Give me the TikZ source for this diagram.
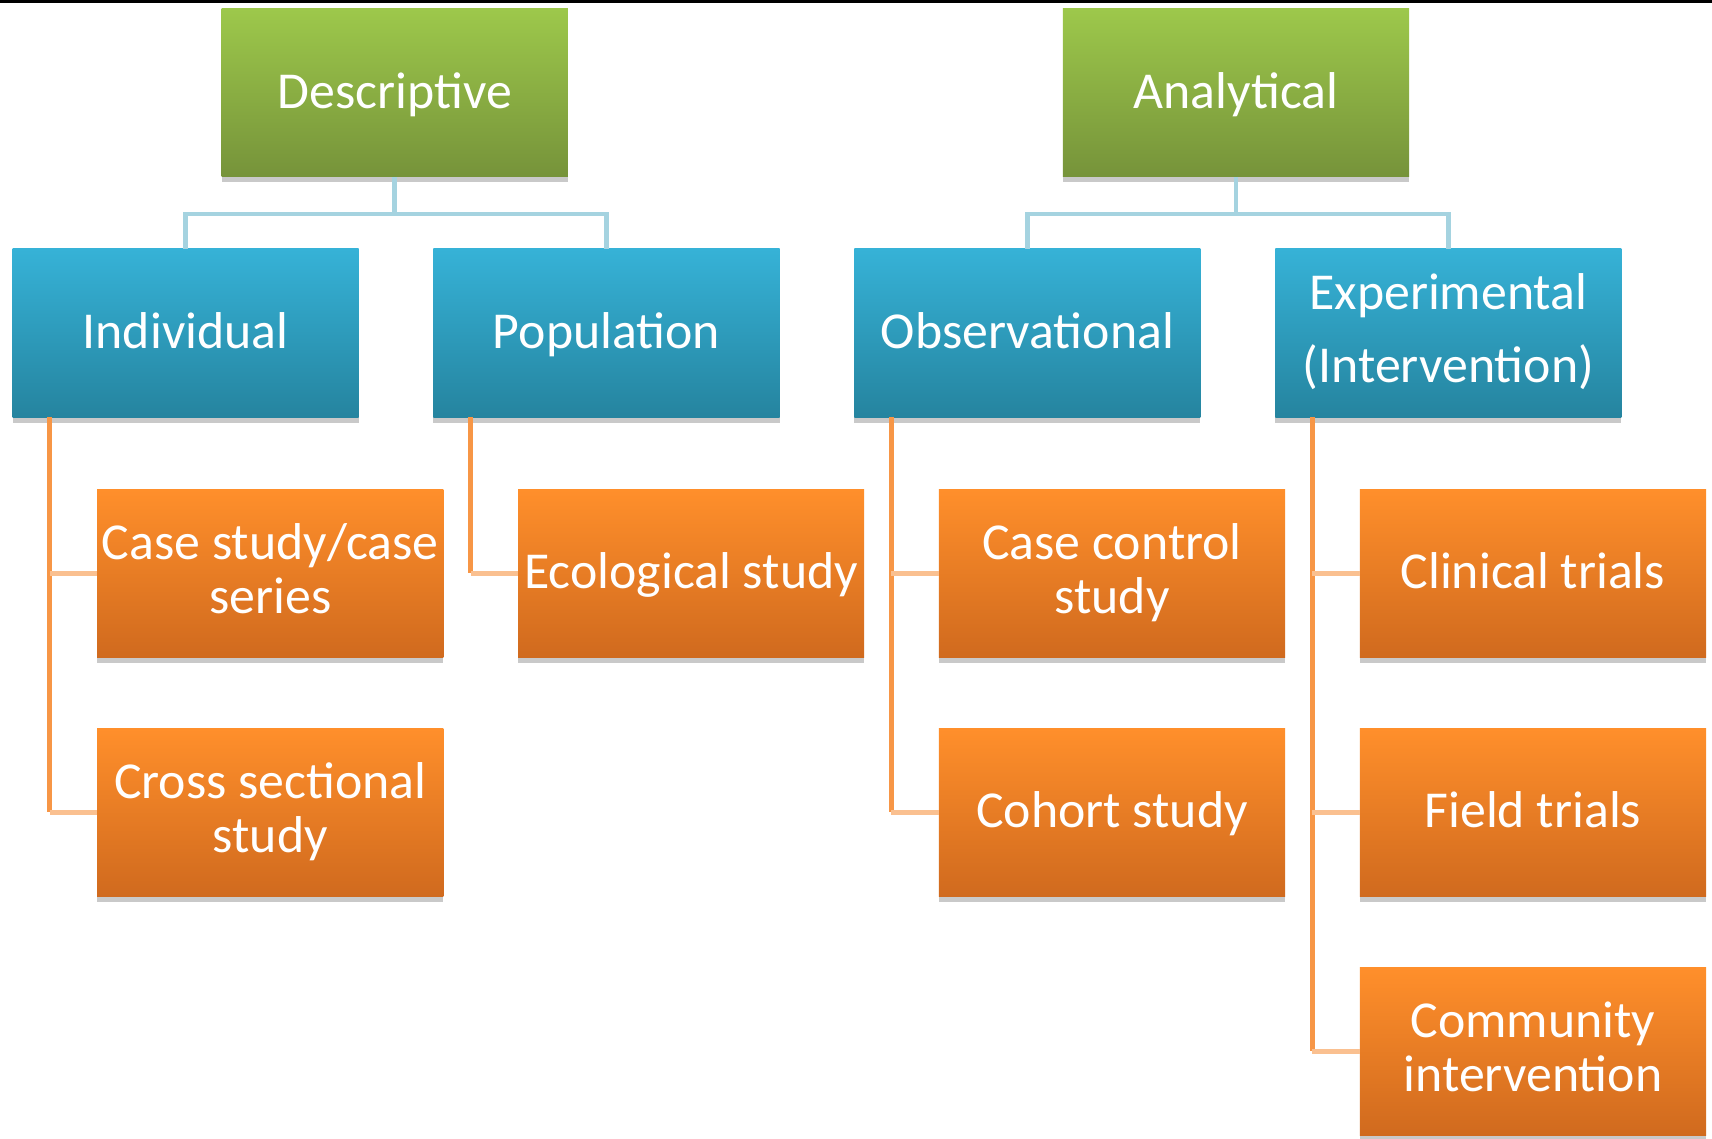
\documentclass[tikz,border=0pt]{standalone}
\usepackage{fontspec}
\setmainfont{Carlito}
\usetikzlibrary{positioning, shadows}

\definecolor{topgreen}{HTML}{9DC84B}
\definecolor{botgreen}{HTML}{76933A}
\definecolor{topblue}{HTML}{36B2D7}
\definecolor{botblue}{HTML}{25849F}
\definecolor{toporange}{HTML}{FF8F2B}
\definecolor{botorange}{HTML}{D06A1E}
\definecolor{lineblue}{HTML}{A5D3E0}
\definecolor{lineorange}{HTML}{F79646}
\definecolor{paleorange}{HTML}{FAC090}

\tikzset{
  box/.style={minimum width=3.17cm, minimum height=1.54cm, inner sep=0pt, outer sep=0pt,
    align=center, text=white, font=\fontsize{13.5}{14}\selectfont,
    execute at begin node=\rule{0pt}{10.5pt}, execute at end node=\rule[-2.4pt]{0pt}{2.4pt},
    drop shadow={shadow xshift=0cm, shadow yshift=-0.05cm, opacity=0.3, fill=black!70}},
  topbox/.style={box, top color=topgreen, bottom color=botgreen},
  midbox/.style={box, top color=topblue, bottom color=botblue},
  leafbox/.style={box, top color=toporange, bottom color=botorange},
  stem/.style={draw=lineblue, line width=1.2pt},
  trunk/.style={draw=lineorange, line width=1.2pt},
  twig/.style={draw=paleorange, line width=1.2pt},
}

\begin{document}
\begin{tikzpicture}
  \useasboundingbox (0,0) rectangle (15.68,-10.43);
  \fill[black] (0,0) rectangle (15.68,-0.025);

  % top row
  \node[topbox] (desc) at (3.615,-0.85) {Descriptive};
  \node[topbox] (anal) at (11.32,-0.85) {Analytical};

  % second row
  \node[midbox] (indiv) at (1.70,-3.05) {Individual};
  \node[midbox, right=0.685cm of indiv] (popul) {Population};
  \node[midbox, right=0.685cm of popul] (obser) {Observational};
  \node[midbox, right=0.685cm of obser] (exper) {Experimental\\[5pt](Intervention)};

  % leaves
  \node[leafbox] (casestudy) at (2.475,-5.25) {Case study/case\\series};
  \node[leafbox, below=0.65cm of casestudy] (crosssec) {Cross sectional\\study};
  \node[leafbox, right=0.685cm of casestudy] (ecolog) {Ecological study};
  \node[leafbox, right=0.685cm of ecolog] (casecontrol) {Case control\\study};
  \node[leafbox, below=0.65cm of casecontrol] (cohort) {Cohort study};
  \node[leafbox, right=0.685cm of casecontrol] (clinical) {Clinical trials};
  \node[leafbox, below=0.65cm of clinical] (field) {Field trials};
  \node[leafbox, below=0.65cm of field] (community) {Community\\intervention};

  % forks under the top row
  \draw[stem] (desc.south) -- ++(0,-0.34) coordinate (descfork);
  \draw[stem] (indiv.north) |- (descfork) -| (popul.north);
  \draw[stem] (anal.south) -- ++(0,-0.34) coordinate (analfork);
  \draw[stem] (obser.north) |- (analfork) -| (exper.north);

  % spines under the second row
  \coordinate (indspine) at ([xshift=0.34cm]indiv.south west);
  \coordinate (popspine) at ([xshift=0.34cm]popul.south west);
  \coordinate (obsspine) at ([xshift=0.34cm]obser.south west);
  \coordinate (expspine) at ([xshift=0.34cm]exper.south west);
  \draw[trunk] (indspine) -- (indspine |- crosssec.west);
  \draw[trunk] (popspine) -- (popspine |- ecolog.west);
  \draw[trunk] (obsspine) -- (obsspine |- cohort.west);
  \draw[trunk] (expspine) -- (expspine |- community.west);
  \foreach \k in {casestudy, crosssec}
    \draw[twig] (indspine |- \k.west) -- (\k.west);
  \draw[twig] (popspine |- ecolog.west) -- (ecolog.west);
  \foreach \k in {casecontrol, cohort}
    \draw[twig] (obsspine |- \k.west) -- (\k.west);
  \foreach \k in {clinical, field, community}
    \draw[twig] (expspine |- \k.west) -- (\k.west);
\end{tikzpicture}
\end{document}
